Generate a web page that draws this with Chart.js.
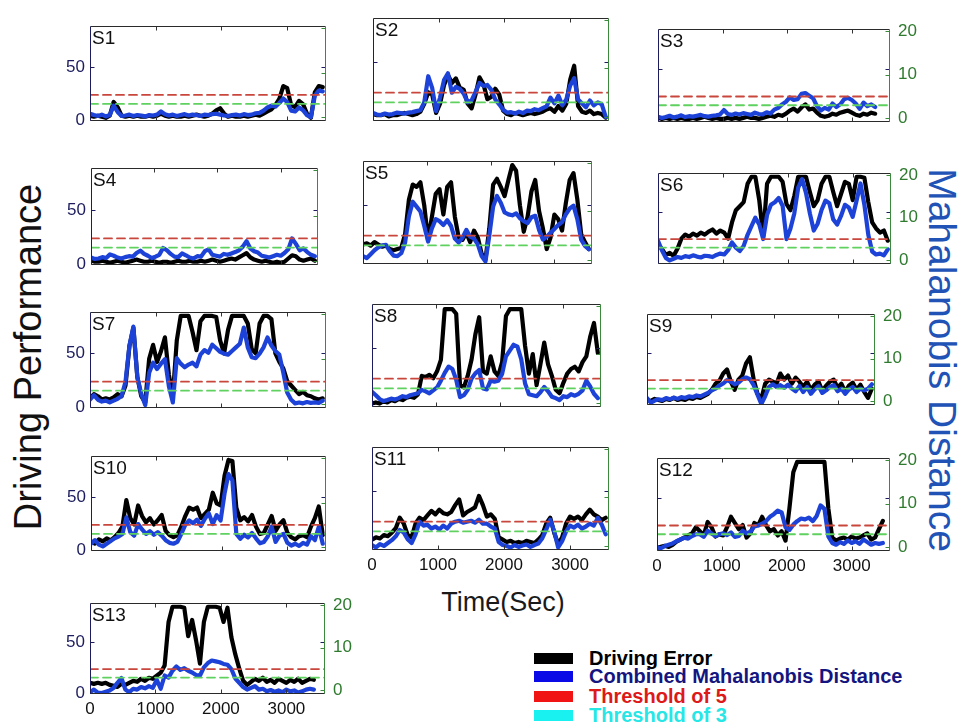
<!DOCTYPE html>
<html>
<head>
<meta charset="utf-8">
<script src="https://cdn.jsdelivr.net/npm/chart.js@4.4.1/dist/chart.umd.min.js"></script>
<style>
  body { margin: 0; width: 970px; height: 728px; background: #fff; position: relative; overflow: hidden;
         font-family: "Liberation Sans", Arial, sans-serif; }
  .panel { position: absolute; }
  .axis-title { position: absolute; white-space: nowrap; transform-origin: center center; }
  #ylabel-left { left: 28px; top: 357px; font-size: 38px; color: #111; transform: translate(-50%, -50%) rotate(-90deg); }
  #ylabel-right { left: 942px; top: 360px; font-size: 39px; color: #2152b6; transform: translate(-50%, -50%) rotate(90deg); }
  #xlabel { left: 503px; top: 602px; font-size: 27px; color: #1a1a1a; transform: translate(-50%, -50%); }
  .legend-row { position: absolute; left: 534px; height: 18px; display: flex; align-items: center;
                font-weight: bold; font-size: 20px; }
  .legend-row .swatch { width: 39px; height: 11px; margin-right: 16px; }
</style>
</head>
<body>
<div id="ylabel-left" class="axis-title">Driving Performance</div>
<div id="ylabel-right" class="axis-title">Mahalanobis Distance</div>
<div id="xlabel" class="axis-title">Time(Sec)</div>
<div id="legend"></div>

<script>
// sampling interval of every trace, seconds
const SAMPLE_STEP = 60;

const TIME_TICKS = [0, 1000, 2000, 3000];
const ERROR_TICKS = [0, 50];
const DISTANCE_TICKS = [0, 10, 20];
const THRESHOLDS = [5, 3];

// driving error (left axis) and combined Mahalanobis distance (right axis) per subject
const s1Error = [4,3,4,3,2,4,17,12,4,3,4,3,4,3,3,4,3,4,6,4,3,4,3,3,4,3,4,5,4,3,4,6,9,11,6,3,4,3,3,4,3,4,5,4,6,8,10,14,20,32,30,14,12,18,15,6,2,26,32,31];
const s1Distance = [0.8,0.5,0.3,0.6,0.2,0.5,2.6,1.2,0.3,0.4,0.6,0.3,0.5,0.4,0.2,0.5,0.4,0.6,1.3,0.7,0.4,0.6,0.3,0.5,0.7,0.4,0.6,0.5,0.3,0.6,0.5,0.7,0.8,0.6,0.4,0.3,0.5,0.6,0.4,0.7,0.5,0.6,0.9,1.0,1.5,2.2,2.6,2.4,3.2,4.2,3.4,1.5,1.3,2.2,1.6,0.5,0.0,4.8,6.0,5.8];

const s2Error = [5,4,4,5,3,4,4,5,6,5,4,5,7,14,24,22,6,14,30,39,32,36,28,26,14,10,22,37,31,18,20,27,22,8,5,4,6,5,4,5,6,5,6,7,9,10,7,12,8,14,35,47,12,7,6,8,5,6,5,2];
const s2Distance = [0.8,0.5,0.4,0.7,0.5,0.6,0.9,0.8,0.7,0.9,1.0,1.2,1.4,3.0,8.4,6.0,1.2,4.0,7.6,9.0,5.0,6.2,5.8,4.8,3.0,3.4,5.2,7.0,6.4,6.6,5.6,3.6,2.6,1.5,0.9,1.0,0.7,1.1,0.8,1.3,1.2,1.6,1.4,1.8,2.2,4.0,2.8,4.4,2.4,3.6,6.5,8.0,3.6,2.8,2.0,3.4,2.4,3.0,2.6,0.0];

const s3Error = [3,2,3,2,3,2,3,2,2,3,2,3,4,3,2,3,2,2,3,2,3,2,3,4,3,3,2,3,4,5,4,6,5,7,10,12,9,13,16,11,12,8,5,4,5,7,6,8,9,10,8,6,5,7,6,8,7];
const s3Distance = [0.4,0.1,0.3,0.6,0.2,0.4,0.7,0.3,0.5,0.4,0.6,0.8,0.5,0.4,0.6,0.7,0.9,1.9,1.0,0.8,1.1,0.9,1.2,1.0,0.8,1.3,1.0,0.9,1.4,1.1,2.0,2.4,3.2,3.8,4.8,4.2,4.4,5.6,5.8,5.2,4.6,2.8,1.8,2.4,2.0,3.4,2.6,3.2,4.4,4.7,4.2,3.4,2.2,3.6,2.8,3.2,2.6];

const s4Error = [3,2,2,3,2,1,2,3,2,1,2,3,4,3,2,2,3,2,1,2,2,1,2,3,2,2,3,2,2,3,2,3,4,3,2,3,4,5,4,6,8,10,6,4,3,2,3,2,1,2,1,2,5,8,7,4,3,4,5,3];
const s4Distance = [0.8,0.5,0.6,0.9,0.7,1.5,1.2,0.8,0.6,0.9,1.1,1.0,1.8,2.3,1.6,1.2,0.7,1.0,1.4,2.9,2.4,1.6,1.0,0.9,1.7,1.3,0.8,0.6,1.1,1.0,2.2,2.6,1.4,1.2,1.0,1.6,1.4,1.7,2.0,2.4,3.2,4.4,2.8,2.2,1.9,1.2,1.0,0.8,1.1,1.4,1.2,1.8,2.6,5.0,3.8,2.4,2.8,2.0,1.4,1.1];

const s5Error = [16,17,15,18,16,14,15,12,11,12,13,25,55,68,66,70,50,20,40,60,64,42,66,70,40,22,20,26,18,28,22,8,3,30,68,73,66,58,72,85,80,50,27,40,62,72,45,30,12,22,42,38,28,52,72,78,55,25,18,12];
const s5Distance = [0.8,0.4,1.2,2.0,2.6,3.0,3.1,1.8,0.9,0.8,1.4,3.6,9.0,12.0,11.0,10.0,7.0,3.8,6.5,8.4,8.0,7.2,8.2,7.0,4.4,3.6,4.6,6.2,4.8,4.4,3.2,0.8,-0.3,5.0,11.0,13.2,11.8,9.8,9.4,9.2,9.6,8.6,8.0,7.6,8.8,9.1,6.2,4.2,4.8,5.6,6.4,7.2,7.8,9.4,10.6,11.2,8.4,4.2,2.9,2.2];

const s6Error = [18,14,8,10,7,14,24,28,26,29,27,30,28,31,33,29,32,30,24,40,52,56,60,78,85,85,62,26,78,85,85,85,80,58,52,66,85,85,85,70,56,62,78,85,85,70,56,68,80,78,62,85,85,84,60,40,34,30,32,22];
const s6Distance = [4.6,2.4,0.6,0.0,0.4,0.8,0.6,1.0,0.8,1.2,0.9,0.7,1.1,1.0,0.8,1.3,1.6,1.4,2.4,4.2,3.0,2.2,3.4,6.0,8.0,10.0,8.4,5.0,10.6,13.0,13.6,14.6,12.8,5.0,7.4,11.0,17.0,19.0,15.8,11.0,7.0,8.6,11.8,14.0,13.4,9.6,8.4,10.4,13.0,12.4,10.2,14.0,18.0,13.0,6.0,2.1,1.4,1.6,1.2,2.6];

const s7Error = [8,12,10,7,8,7,9,12,10,20,57,74,28,10,4,45,58,42,52,65,30,10,62,85,85,85,70,53,80,85,85,85,84,62,50,72,85,85,85,85,78,54,50,78,85,85,82,50,42,36,24,20,16,12,14,11,10,8,7,8];
const s7Distance = [1.0,2.0,1.0,0.6,0.8,0.4,0.8,1.2,1.8,5.0,13.0,17.2,6.0,2.3,-0.2,7.0,9.2,7.8,9.0,10.0,4.0,0.4,10.2,9.0,8.2,8.8,9.2,8.4,11.0,12.0,11.4,13.2,12.4,11.6,11.2,11.0,11.8,12.6,13.4,17.0,12.6,10.4,10.2,11.2,12.6,14.8,13.0,11.8,11.0,7.0,2.6,1.0,0.2,0.4,0.2,0.5,0.3,0.4,0.3,0.8];

const s8Error = [2,3,2,4,3,5,4,6,5,7,8,7,10,26,25,27,24,30,40,84,84,84,80,18,16,26,40,62,77,30,28,43,30,26,38,78,84,84,84,84,52,28,45,18,36,55,36,26,14,11,20,28,32,34,30,38,43,60,72,46];
const s8Distance = [2.3,1.6,0.8,0.4,0.6,0.9,0.7,1.0,1.4,1.2,1.6,1.8,2.0,2.7,2.4,2.0,2.6,3.2,4.6,6.2,7.5,7.0,4.8,1.2,1.6,2.7,5.0,6.1,6.8,3.0,2.8,4.6,4.4,4.6,6.0,9.6,10.8,12.0,11.6,9.0,4.0,1.8,1.6,1.4,2.2,3.3,2.4,1.3,1.0,0.6,1.4,1.2,1.8,1.5,1.9,2.6,4.6,3.4,1.9,1.0];

const s9Error = [4,3,5,4,3,5,4,6,4,5,4,6,5,7,6,8,10,14,20,23,30,34,22,14,24,28,40,46,24,10,5,20,24,22,20,30,24,28,20,26,22,17,22,14,19,22,13,18,22,24,16,20,12,18,21,14,19,12,6,15];
const s9Distance = [0.8,-0.3,0.2,0.5,0.3,0.8,0.5,0.9,0.6,1.0,0.8,1.2,1.0,1.4,1.2,1.6,2.0,2.6,3.0,3.7,4.2,5.0,4.6,4.0,4.4,5.2,5.6,5.2,3.8,1.6,-0.6,1.2,3.4,4.0,3.4,3.8,3.2,3.9,3.0,2.4,3.6,2.2,3.4,1.8,2.8,3.6,2.0,2.6,3.4,3.8,2.4,3.0,1.8,2.8,3.4,2.2,3.0,2.6,3.0,4.0];

const s10Error = [8,6,10,8,11,9,12,16,22,47,30,24,42,32,26,30,24,28,33,18,14,12,14,22,32,40,38,40,30,34,38,54,44,42,70,85,84,40,28,31,27,33,22,15,16,24,32,18,24,28,16,12,10,13,14,12,22,30,41,14];
const s10Distance = [0.8,1.6,0.6,0.2,0.8,1.4,2.0,2.4,3.0,6.7,3.4,2.6,5.2,4.0,3.0,3.6,2.8,3.4,2.6,1.6,1.0,0.8,1.2,3.0,5.0,6.0,5.4,6.2,4.8,6.4,7.6,5.2,7.2,6.0,12.0,16.4,15.0,3.0,1.9,2.8,2.2,3.2,2.0,0.9,1.2,2.4,4.6,1.2,2.6,3.0,1.0,0.4,0.8,0.3,1.0,0.6,2.5,1.6,4.6,0.8];

const s11Error = [8,10,9,12,11,14,18,27,22,12,10,22,27,25,29,33,30,34,31,30,32,38,43,29,32,34,36,46,38,28,30,26,10,8,6,7,5,6,5,7,6,5,8,12,22,27,14,4,10,22,28,26,28,25,30,34,30,28,25,27];
const s11Distance = [0.2,-0.3,0.4,0.0,0.6,1.2,2.0,3.3,2.8,1.4,0.6,2.4,5.0,4.2,4.4,3.6,4.0,3.4,4.2,3.6,4.6,5.0,5.2,4.8,5.0,5.2,4.8,5.4,4.6,4.6,4.0,3.6,0.8,0.2,0.0,-0.3,0.2,-0.2,0.1,0.3,-0.2,0.2,0.5,1.6,3.4,5.4,3.0,-0.3,1.0,3.0,4.2,3.8,4.4,3.6,4.0,4.6,4.2,5.8,4.4,2.4];

const s12Error = [2,3,4,3,5,8,10,12,14,16,22,18,14,27,22,13,15,14,22,32,26,20,24,12,16,26,24,32,24,18,20,14,18,9,40,75,85,85,85,85,85,85,85,85,40,12,9,11,12,10,13,11,12,14,16,10,12,20,28];
const s12Distance = [0.0,-0.2,0.3,0.6,0.9,1.4,1.8,2.2,2.0,2.6,3.0,3.0,2.4,3.8,3.2,2.6,3.0,3.2,2.8,3.4,2.4,2.6,3.8,3.2,3.6,4.8,5.0,5.4,6.0,7.0,7.6,8.4,8.0,4.6,4.0,5.2,6.0,6.6,6.4,6.8,6.0,7.2,9.6,8.8,2.5,1.0,0.6,1.2,0.8,1.6,1.0,1.4,0.8,1.8,1.2,0.6,1.0,0.8,1.0];

const s13Error = [10,9,10,9,10,8,7,6,9,8,10,12,11,14,12,15,14,17,20,27,70,85,85,85,84,56,72,52,29,70,85,85,85,84,70,84,55,38,24,12,8,11,14,12,15,11,13,10,14,12,10,13,11,14,10,12,14,13];
const s13Distance = [-0.4,0.2,-0.5,-0.6,-0.3,0.0,0.6,1.8,2.9,0.2,-0.4,0.4,0.2,0.8,0.5,1.0,0.6,2.5,0.4,3.5,3.0,4.6,5.6,4.8,5.2,4.6,4.2,3.6,3.5,5.4,6.4,7.0,6.8,6.6,6.2,6.0,5.0,2.8,1.8,0.8,0.2,0.6,1.0,0.2,0.4,-0.2,0.1,-0.3,0.0,-0.4,0.2,-0.2,0.0,-0.5,-0.2,0.2,0.4,0.2];

// axis ranges
const TIME_MAX = 3590;
const ERROR_MIN = -1, ERROR_MAX = 88.5;
const DIST_MIN = -0.83, DIST_MAX = 20.4;

// plot box of each subject: [left, top, right, bottom] in page pixels
const panels = [
  { name: 'S1',  error: s1Error,  distance: s1Distance,  box: [90, 19, 326, 121],  left: true },
  { name: 'S2',  error: s2Error,  distance: s2Distance,  box: [373, 18, 609, 121] },
  { name: 'S3',  error: s3Error,  distance: s3Distance,  box: [658, 19, 890, 122],  right: true },
  { name: 'S4',  error: s4Error,  distance: s4Distance,  box: [91, 161, 318, 265],  left: true },
  { name: 'S5',  error: s5Error,  distance: s5Distance,  box: [363, 161, 592, 264] },
  { name: 'S6',  error: s6Error,  distance: s6Distance,  box: [658, 163, 891, 264], right: true },
  { name: 'S7',  error: s7Error,  distance: s7Distance,  box: [90, 305, 326, 408],  left: true },
  { name: 'S8',  error: s8Error,  distance: s8Distance,  box: [372, 304, 601, 407] },
  { name: 'S9',  error: s9Error,  distance: s9Distance,  box: [647, 304, 875, 405], right: true },
  { name: 'S10', error: s10Error, distance: s10Distance, box: [91, 449, 326, 551],  left: true },
  { name: 'S11', error: s11Error, distance: s11Distance, box: [372, 447, 609, 550], time: true },
  { name: 'S12', error: s12Error, distance: s12Distance, box: [657, 448, 890, 551], right: true, time: true },
  { name: 'S13', error: s13Error, distance: s13Distance, box: [90, 593, 325, 694],  left: true, right: true, time: true }
];

const legendItems = [
  { label: 'Driving Error', swatch: '#000000', text: '#000000', top: 649 },
  { label: 'Combined Mahalanobis Distance', swatch: '#0a0ae6', text: '#15157f', top: 667 },
  { label: 'Threshold of 5', swatch: '#f01414', text: '#dc1a1a', top: 687 },
  { label: 'Threshold of 3', swatch: '#19f0f0', text: '#26e6e6', top: 706 }
];

const PAD = { left: 50, right: 50, top: 8, bottom: 30 };
const FONT = '"Liberation Sans", Arial, sans-serif';
Chart.defaults.font.family = FONT;

const toPoints = arr => arr.map((v, i) => ({ x: i * SAMPLE_STEP, y: v }));
const flatLine = v => [{ x: 0, y: v }, { x: TIME_MAX, y: v }];

// box, inward ticks and subject label, drawn over the traces
const panelFrame = {
  id: 'panelFrame',
  afterDatasetsDraw(chart, args, opts) {
    const { ctx, chartArea: a, scales } = chart;
    const L = Math.round(a.left) + 0.5, R = Math.round(a.right) - 0.5;
    const T = Math.round(a.top) + 0.5, B = Math.round(a.bottom) - 0.5;
    ctx.save();
    ctx.lineWidth = 1;

    ctx.strokeStyle = '#333';
    ctx.beginPath();
    TIME_TICKS.slice(1).forEach(t => {
      const x = Math.round(scales.x.getPixelForValue(t)) + 0.5;
      ctx.moveTo(x, T); ctx.lineTo(x, T + 4);
      ctx.moveTo(x, B); ctx.lineTo(x, B - 4);
    });
    ctx.stroke();

    ctx.strokeStyle = '#1c1c5e';
    ctx.beginPath();
    ERROR_TICKS.forEach(v => {
      const y = Math.round(scales.y.getPixelForValue(v)) + 0.5;
      ctx.moveTo(L, y); ctx.lineTo(L + 4, y);
      ctx.moveTo(R, y); ctx.lineTo(R - 4, y);
    });
    ctx.stroke();

    ctx.strokeStyle = '#3b8a3b';
    ctx.beginPath();
    DISTANCE_TICKS.forEach(v => {
      const y = Math.round(scales.y2.getPixelForValue(v)) + 0.5;
      ctx.moveTo(R, y); ctx.lineTo(R - 4, y);
    });
    ctx.stroke();

    ctx.strokeStyle = '#2a2a2a';
    ctx.beginPath();
    ctx.moveTo(L, T); ctx.lineTo(R, T);
    ctx.moveTo(L, B); ctx.lineTo(R, B);
    ctx.stroke();
    ctx.strokeStyle = '#1c1c5e';
    ctx.beginPath(); ctx.moveTo(L, T); ctx.lineTo(L, B); ctx.stroke();
    ctx.strokeStyle = '#3b8a3b';
    ctx.beginPath(); ctx.moveTo(R, T); ctx.lineTo(R, B); ctx.stroke();

    ctx.fillStyle = '#111';
    ctx.font = '19px ' + FONT;
    ctx.textBaseline = 'alphabetic';
    ctx.fillText(opts.label, a.left + 2, a.top + 18);
    ctx.restore();
  }
};

const tickFont = { size: 17, family: FONT };

panels.forEach(p => {
  const [x0, y0, x1, y1] = p.box;
  const w = x1 - x0 + PAD.left + PAD.right;
  const h = y1 - y0 + PAD.top + PAD.bottom;
  const holder = document.createElement('div');
  holder.className = 'panel';
  holder.style.left = (x0 - PAD.left) + 'px';
  holder.style.top = (y0 - PAD.top) + 'px';
  const canvas = document.createElement('canvas');
  canvas.width = w; canvas.height = h;
  canvas.style.width = w + 'px'; canvas.style.height = h + 'px';
  holder.appendChild(canvas);
  document.body.appendChild(holder);

  new Chart(canvas, {
    type: 'line',
    data: {
      datasets: [
        { label: 'Threshold of 5', data: flatLine(THRESHOLDS[0]), yAxisID: 'y2', borderColor: '#c9463d',
          borderWidth: 1.8, borderDash: [8, 5], order: 0 },
        { label: 'Threshold of 3', data: flatLine(THRESHOLDS[1]), yAxisID: 'y2', borderColor: '#5fd15f',
          borderWidth: 1.8, borderDash: [8, 5], order: 0 },
        { label: 'Combined Mahalanobis Distance', data: toPoints(p.distance), yAxisID: 'y2',
          borderColor: '#1d42d8', borderWidth: 4.2, order: 1 },
        { label: 'Driving Error', data: toPoints(p.error), yAxisID: 'y',
          borderColor: '#000000', borderWidth: 4.2, order: 2 }
      ]
    },
    options: {
      responsive: false,
      animation: false,
      devicePixelRatio: 1,
      layout: { padding: { top: PAD.top, left: 0, right: 0, bottom: 0 } },
      elements: {
        point: { radius: 0 },
        line: { tension: 0, borderJoinStyle: 'round', borderCapStyle: 'round' }
      },
      plugins: { legend: { display: false }, tooltip: { enabled: false }, panelFrame: { label: p.name } },
      scales: {
        x: {
          type: 'linear', min: 0, max: TIME_MAX,
          grid: { display: false, drawTicks: false }, border: { display: false },
          afterBuildTicks: s => { s.ticks = TIME_TICKS.map(v => ({ value: v })); },
          afterFit: s => { s.height = PAD.bottom; },
          ticks: { display: !!p.time, padding: 5, color: '#111', font: tickFont,
                   maxRotation: 0, autoSkip: false, callback: v => String(v) }
        },
        y: {
          position: 'left', min: ERROR_MIN, max: ERROR_MAX,
          grid: { display: false, drawTicks: false }, border: { display: false },
          afterBuildTicks: s => { s.ticks = ERROR_TICKS.map(v => ({ value: v })); },
          afterFit: s => { s.width = PAD.left; },
          ticks: { display: !!p.left, padding: 5, color: '#1c1c5e', font: tickFont, callback: v => String(v) }
        },
        y2: {
          position: 'right', min: DIST_MIN, max: DIST_MAX,
          grid: { display: false, drawTicks: false }, border: { display: false },
          afterBuildTicks: s => { s.ticks = DISTANCE_TICKS.map(v => ({ value: v })); },
          afterFit: s => { s.width = PAD.right; },
          ticks: { display: !!p.right, padding: 8, color: '#2e7a2e', font: tickFont, callback: v => String(v) }
        }
      }
    },
    plugins: [panelFrame]
  });
});

// legend block
const legend = document.getElementById('legend');
legendItems.forEach(item => {
  const row = document.createElement('div');
  row.className = 'legend-row';
  row.style.top = item.top + 'px';
  row.style.color = item.text;
  const sw = document.createElement('span');
  sw.className = 'swatch';
  sw.style.background = item.swatch;
  const txt = document.createElement('span');
  txt.textContent = item.label;
  row.appendChild(sw);
  row.appendChild(txt);
  legend.appendChild(row);
});
</script>
</body>
</html>
